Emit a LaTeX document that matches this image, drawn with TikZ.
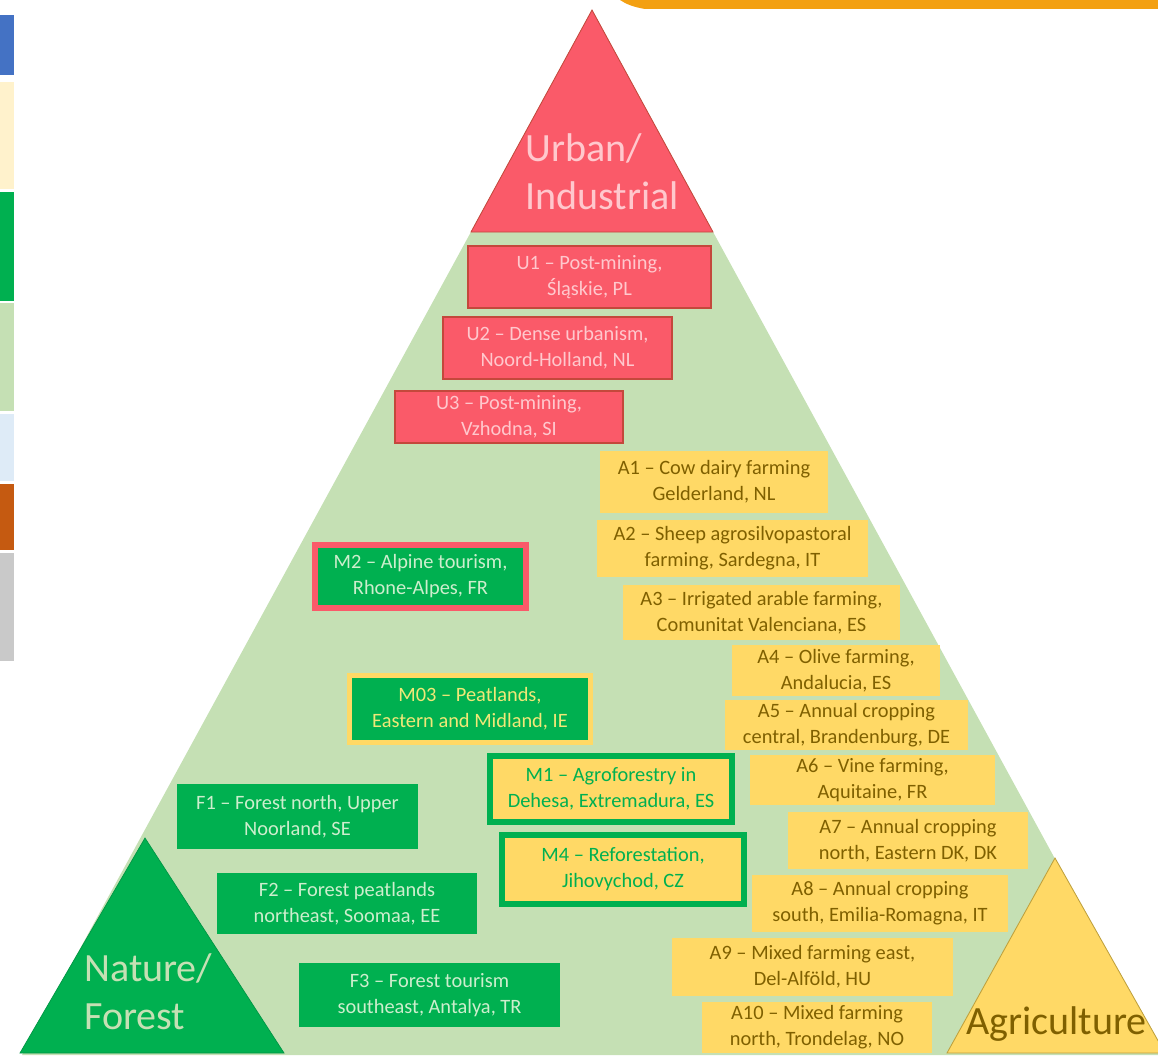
\documentclass[tikz,border=0pt]{standalone}
\usepackage{fontspec}
\setmainfont{Carlito}
\definecolor{landgreen}{RGB}{197,224,180}
\definecolor{urbanred}{RGB}{250,90,105}
\definecolor{urbanedge}{RGB}{196,72,60}
\definecolor{forestgreen}{RGB}{0,176,80}
\definecolor{agriyellow}{RGB}{255,217,102}
\definecolor{agriedge}{RGB}{190,160,60}
\definecolor{agritext}{RGB}{127,96,0}
\definecolor{palered}{RGB}{255,200,205}
\definecolor{palegreen}{RGB}{205,238,205}
\definecolor{paleyellow}{RGB}{240,232,120}
\definecolor{barorange}{RGB}{243,160,18}
\definecolor{stripblue}{RGB}{68,114,196}
\definecolor{stripcream}{RGB}{255,242,204}
\definecolor{stripsky}{RGB}{222,235,247}
\definecolor{stripbrown}{RGB}{197,90,17}
\definecolor{stripgray}{RGB}{201,201,201}

\begin{document}
\begin{tikzpicture}[x=0.025cm,y=-0.025cm]
    \useasboundingbox (0,0) rectangle (1158,1058);

    \foreach \ya/\yb/\col in {15/75/stripblue,82/189/stripcream,192/301/forestgreen,
      303/411/landgreen,414/481/stripsky,484/550/stripbrown,553/661/stripgray}{%
      \fill[\col] (0,\ya) rectangle (14,\yb);
    }
    \fill[barorange] (620,0) -- (1158,0) -- (1158,9) -- (645,9)
      .. controls (633,7) and (626,4) .. (620,0) -- cycle;

    \fill[landgreen] (592,10) -- (1162,1055) -- (22,1055) -- cycle;
    \filldraw[fill=urbanred,draw=urbanedge,line width=0.6pt]
      (592,10) -- (713,232) -- (471,232) -- cycle;
    \filldraw[fill=forestgreen,draw=forestgreen!85!black,line width=0.5pt]
      (145,838) -- (284,1053) -- (20,1053) -- cycle;
    \filldraw[fill=agriyellow,draw=agriedge,line width=0.6pt]
      (1055,858) -- (1165,1053) -- (947,1053) -- cycle;

    \begin{scope}[big label/.style={inner sep=0pt,align=left,
                                    font=\fontsize{28.5}{34}\selectfont}]
      \node[big label,text=palered,anchor=west] (urban) at (525,172) {Urban/\\Industrial};
      \node[big label,text=landgreen,anchor=west] (nature) at (84,992) {Nature/\\Forest};
      \node[big label,text=agritext,anchor=base west] (agri) at (966,1034) {Agriculture};
    \end{scope}

    \begin{scope}[box/.style 2 args={rectangle,
                                     inner sep=0pt,
                                     align=center,
                                     minimum width=#1*0.025cm,
                                     minimum height=#2*0.025cm,
                                     font=\fontsize{14.5}{18.5}\selectfont},
                  urban box/.style={fill=urbanred,draw=urbanedge,line width=0.8pt,text=palered},
                  agri box/.style={fill=agriyellow,text=agritext},
                  forest box/.style={fill=forestgreen,text=palegreen},
                  mixed box/.style={line width=4.2pt}]
      \node[urban box,box={243}{62}] (u1) at (589.5,277) {U1 – Post-mining,\\Śląskie, PL};
      \node[urban box,box={229}{62}] (u2) at (557.5,348) {U2 – Dense urbanism,\\Noord-Holland, NL};
      \node[urban box,box={228}{52}] (u3) at (509,417) {U3 – Post-mining,\\Vzhodna, SI};

      \node[agri box,box={228}{62}] (a1) at (714,482) {A1 – Cow dairy farming\\Gelderland, NL};
      \node[agri box,box={271}{57}] (a2) at (732.5,548.5) {A2 – Sheep agrosilvopastoral\\farming, Sardegna, IT};
      \node[agri box,box={277}{55}] (a3) at (761.5,612.5) {A3 – Irrigated arable farming,\\Comunitat Valenciana, ES};
      \node[agri box,box={208}{51}] (a4) at (836,670.5) {A4 – Olive farming,\\Andalucia, ES};
      \node[agri box,box={243}{50}] (a5) at (846.5,725) {A5 – Annual cropping\\central, Brandenburg, DE};
      \node[agri box,box={245}{50}] (a6) at (872.5,780) {A6 – Vine farming,\\Aquitaine, FR};
      \node[agri box,box={240}{57}] (a7) at (908,840.5) {A7 – Annual cropping\\north, Eastern DK, DK};
      \node[agri box,box={256}{57}] (a8) at (880,903.5) {A8 – Annual cropping\\south, Emilia-Romagna, IT};
      \node[agri box,box={281}{58}] (a9) at (812.5,967) {A9 – Mixed farming east,\\Del-Alföld, HU};
      \node[agri box,box={230}{51}] (a10) at (817,1027.5) {A10 – Mixed farming\\north, Trondelag, NO};

      \node[forest box,mixed box,draw=urbanred,box={211}{63}] (m2) at (420.5,576.5) {M2 – Alpine tourism,\\Rhone-Alpes, FR};
      \node[forest box,mixed box,draw=agriyellow,text=paleyellow,box={241}{67}] (m3) at (470,709) {M03 – Peatlands,\\Eastern and Midland, IE};
      \node[agri box,mixed box,draw=forestgreen,text=forestgreen,box={242}{66}] (m1) at (611,789) {M1 – Agroforestry in\\Dehesa, Extremadura, ES};
      \node[agri box,mixed box,draw=forestgreen,text=forestgreen,box={242}{69}] (m4) at (623,869.5) {M4 – Reforestation,\\Jihovychod, CZ};

      \node[forest box,box={241}{65}] (f1) at (297.5,816.5) {F1 – Forest north, Upper\\Noorland, SE};
      \node[forest box,box={260}{61}] (f2) at (347,903.5) {F2 – Forest peatlands\\northeast, Soomaa, EE};
      \node[forest box,box={261}{64}] (f3) at (429.5,995) {F3 – Forest tourism\\southeast, Antalya, TR};
    \end{scope}

\end{tikzpicture}
\end{document}
